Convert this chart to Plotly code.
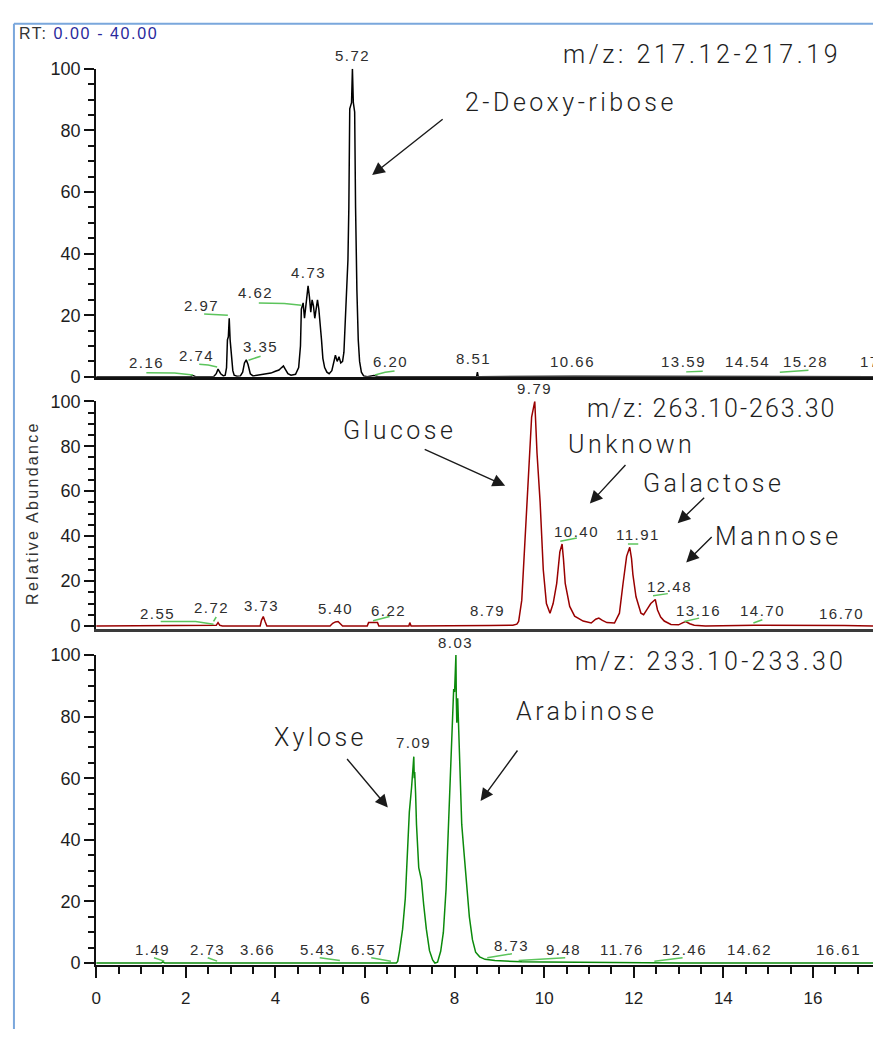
import plotly.graph_objects as go

# ---------------- chromatogram data (RT in min, relative abundance in %) ----------------
# m/z 217.12-217.19 (2-deoxy-ribose channel)
deoxy_rt = [0.00, 2.10, 2.16, 2.22, 2.62, 2.68, 2.72, 2.74, 2.78, 2.84, 2.88, 2.91, 2.93, 2.95,
            2.97, 2.99, 3.02, 3.05, 3.08, 3.14, 3.22, 3.27, 3.31, 3.35, 3.39, 3.44, 3.50, 3.60,
            3.70, 3.80, 3.90, 4.00, 4.08, 4.14, 4.18, 4.22, 4.28, 4.35, 4.45, 4.52, 4.56, 4.58,
            4.62, 4.65, 4.68, 4.71, 4.73, 4.76, 4.79, 4.82, 4.85, 4.88, 4.91, 4.94, 4.97, 5.00,
            5.03, 5.06, 5.10, 5.15, 5.20, 5.26, 5.30, 5.34, 5.38, 5.42, 5.46, 5.50, 5.53, 5.56,
            5.59, 5.62, 5.64, 5.66, 5.70, 5.72, 5.74, 5.77, 5.79, 5.80, 5.82, 5.85, 5.88, 5.92,
            5.97, 6.05, 6.20, 6.30, 8.49, 8.51, 8.53, 10.66, 13.59, 15.28, 17.34]
deoxy_ab = [0, 0, 0.4, 0, 0, 1, 2.5, 2, 1, 0.3, 0.5, 3, 12, 13,
            19, 12, 6, 2, 0.5, 0.2, 0.3, 1.5, 4.5, 5.5, 4, 1, 0.3, 0.5,
            0.8, 1, 1.2, 1.8, 2.2, 3, 3.5, 2.5, 1, 0.5, 0.8, 3, 10, 22,
            24, 19, 23, 28, 29.5, 26, 21, 25, 23, 19, 22, 25, 22, 18,
            12, 6, 3, 1.5, 1, 2, 4.5, 7, 5, 6.5, 4.5, 5, 8, 17,
            26, 38, 55, 87, 89, 100, 89, 86, 55, 41, 28, 12, 5, 1.5,
            0.3, 0, 0.4, 0, 0, 1.5, 0, 0.2, 0.2, 0.2, 0]

# m/z 263.10-263.30 (hexoses)
hexose_rt = [0.00, 2.60, 2.68, 2.72, 2.76, 2.82, 3.66, 3.69, 3.73, 3.77, 3.81, 5.22, 5.28, 5.34,
             5.40, 5.45, 5.50, 6.05, 6.08, 6.22, 6.28, 6.31, 6.98, 7.00, 7.03, 8.79, 9.30, 9.39,
             9.43, 9.50, 9.56, 9.65, 9.72, 9.76, 9.79, 9.81, 9.84, 9.91, 9.98, 10.05, 10.13, 10.20,
             10.28, 10.35, 10.40, 10.43, 10.47, 10.57, 10.68, 10.87, 11.05, 11.15, 11.22, 11.30,
             11.40, 11.57, 11.68, 11.76, 11.84, 11.91, 11.95, 11.98, 12.05, 12.16, 12.22, 12.30,
             12.38, 12.48, 12.53, 12.60, 12.68, 12.83, 13.00, 13.10, 13.16, 13.25, 13.35, 13.60,
             14.70, 16.70, 17.34]
hexose_ab = [0, 0, 0.3, 1.5, 0.3, 0, 0, 2.5, 4.2, 2, 0, 0, 1.2, 1.8,
             2, 1, 0, 0, 1.5, 1.5, 1.5, 0, 0, 1.5, 0, 0.2, 0.3, 0.8,
             2, 11.5, 33, 62, 93, 97, 100, 91, 77, 55, 25, 10, 5.7, 10,
             19, 33, 36.5, 30, 19, 8.7, 4.4, 2.2, 1.3, 3, 3.5, 2.5,
             1.5, 1.3, 5.7, 18.8, 31, 35, 30, 23, 13, 5.7, 5, 7.5,
             10, 11.8, 7.1, 4, 2.2, 0.7, 0.5, 1.5, 2, 1, 0.3, 0,
             0.3, 0.2, 0]

# m/z 233.10-233.30 (pentoses)
pentose_rt = [0.00, 1.45, 1.49, 1.53, 6.70, 6.73, 6.77, 6.84, 6.90, 6.95, 6.99, 7.04, 7.07, 7.09,
              7.10, 7.11, 7.13, 7.15, 7.20, 7.26, 7.31, 7.37, 7.44, 7.51, 7.56, 7.62, 7.69, 7.75,
              7.81, 7.86, 7.91, 7.95, 7.98, 8.00, 8.02, 8.03, 8.04, 8.05, 8.07, 8.09, 8.12, 8.16,
              8.21, 8.27, 8.33, 8.40, 8.47, 8.56, 8.68, 8.90, 9.12, 9.50, 10.00, 11.00, 12.00,
              13.00, 17.34]
pentose_ab = [0, 0, 0.4, 0, 0, 0.5, 3.8, 11, 21, 39, 49, 57, 63, 67,
              60, 62, 55, 45, 31, 27, 19, 11, 4, 1, 0, 0.3, 3.8, 10,
              24, 42, 58, 73, 89, 88, 95, 100, 85, 78, 86, 75, 62, 45,
              36, 25, 15, 7.5, 3.5, 2, 1.2, 0.8, 0.6, 0.4, 0.3, 0.2, 0.1,
              0, 0]

# ---------------- peak apex labels ----------------
deoxy_peaks = [2.16, 2.74, 2.97, 3.35, 4.62, 4.73, 5.72, 6.20, 8.51, 10.66, 13.59, 14.54, 15.28]
deoxy_lbl_x = [1.12, 2.23, 2.36, 3.66, 3.56, 4.73, 5.72, 6.58, 8.43, 10.64, 13.12, 14.54, 15.83]
deoxy_lbl_y = [4.5, 7.0, 23.0, 9.9, 27.4, 33.8, 104.2, 5.1, 6.1, 5.1, 5.1, 5.1, 5.1]

hexose_peaks = [2.55, 2.72, 3.73, 5.40, 6.22, 8.79, 9.79, 10.40, 11.91, 12.48, 13.16, 14.70, 16.70]
hexose_lbl_x = [1.38, 2.57, 3.70, 5.35, 6.52, 8.73, 9.79, 10.73, 12.10, 12.79, 13.45, 14.87, 16.64]
hexose_lbl_y = [5.7, 8.2, 9.3, 7.9, 6.7, 6.7, 105.4, 42.1, 40.6, 17.5, 6.7, 6.7, 5.7]

pentose_peaks = [1.49, 2.73, 3.66, 5.43, 6.57, 7.09, 8.03, 8.73, 9.48, 11.76, 12.46, 14.62, 16.61]
pentose_lbl_x = [1.26, 2.48, 3.60, 4.93, 6.08, 7.09, 8.03, 9.27, 10.44, 11.74, 13.13, 14.59, 16.57]
pentose_lbl_y = [4.4, 4.5, 4.5, 4.5, 4.5, 71.6, 104.1, 5.6, 4.4, 4.5, 4.5, 4.5, 4.5]

# peak label running off the right edge of the time window
edge_peak = 17.05

# green integration baselines that tie labels to their peaks
deoxy_guides = [[(1.12, 1.3), (1.75, 1.2), (2.16, 0.6)],
                [(2.30, 4.1), (2.50, 3.8), (2.70, 3.2)],
                [(2.41, 20.4), (2.94, 20.0)],
                [(3.40, 5.4), (3.67, 6.7)],
                [(3.63, 24.0), (4.20, 23.8), (4.58, 23.2)],
                [(6.22, 0.6), (6.45, 1.5), (6.66, 1.9)],
                [(13.17, 1.6), (13.54, 1.8)],
                [(15.26, 1.5), (15.90, 2.1)]]
hexose_guides = [[(1.44, 2.0), (2.22, 2.0), (2.62, 0.8)],
                 [(2.62, 2.0), (2.68, 4.0)],
                 [(6.18, 2.3), (6.55, 4.2)],
                 [(10.36, 37.7), (10.73, 39.2)],
                 [(11.87, 36.5), (12.10, 36.5)],
                 [(12.43, 13.5), (12.76, 14.4)],
                 [(13.13, 2.0), (13.46, 3.5)],
                 [(14.67, 1.3), (14.87, 2.8)]]
pentose_guides = [[(1.29, 1.7), (1.52, 0.6)],
                  [(2.49, 1.7), (2.70, 0.6)],
                  [(4.99, 1.7), (5.44, 0.8)],
                  [(6.14, 1.7), (6.58, 0.6)],
                  [(8.73, 1.7), (9.28, 3.0)],
                  [(9.43, 0.8), (10.47, 1.7)],
                  [(12.46, 0.6), (13.09, 1.7)]]

# compound names, mass ranges and arrows (head in data units, tail offset in px)
mass_ranges = ["m/z: 217.12-217.19", "m/z: 263.10-263.30", "m/z: 233.10-233.30"]
compounds = [("2-Deoxy-ribose", "y3", 10.59, 89.2, 6.16, 65.5, 72, -57),
             ("Glucose", "y2", 6.78, 86.9, 9.13, 62.4, -82, -37),
             ("Unknown", "y2", 11.95, 80.8, 11.02, 54.5, 37, -40),
             ("Galactose", "y2", 13.79, 63.3, 12.98, 45.7, 28, -27),
             ("Mannose", "y2", 15.22, 39.9, 13.17, 28.3, 27, -27),
             ("Arabinose", "y", 10.95, 81.8, 8.58, 52.6, 38, -52),
             ("Xylose", "y", 5.01, 73.3, 6.51, 50.5, -42, -50)]

# ---------------- figure geometry ----------------
W, H = 873, 1039
RT_MAX = 17.34
X_LEFT = 91.7
# vertical pixels per abundance unit in each panel
PX_PER_UNIT = {"y3": 3.14, "y2": 2.29, "y": 3.14}


def py(p):
    return 1 - p / H


LABEL_FONT = dict(family="Liberation Sans, Arial, sans-serif", size=15, color="#2e2e2e")
BIG_FONT = dict(family="Roboto, Liberation Sans, sans-serif", size=25, color="#1e1e1e", weight=300)
TICK_FONT_Y = dict(family="Liberation Sans, Arial, sans-serif", size=18, color="#1e1e1e")
TICK_FONT_X = dict(family="Liberation Sans, Arial, sans-serif", size=17, color="#1e1e1e")


def spaced(text, px):
    return f'<span style="letter-spacing:{px}px">{text}</span>'


def placed(ya, y):
    """Keep the anchor inside the axis range; lift text above the top with a pixel shift."""
    if y > 100:
        return 100, (y - 100) * PX_PER_UNIT[ya]
    return y, 0


fig = go.Figure()

panels = [("x3", "y3", deoxy_rt, deoxy_ab, "#000000"),
          ("x2", "y2", hexose_rt, hexose_ab, "#990000"),
          ("x", "y", pentose_rt, pentose_ab, "#0b8a0b")]
for xa, ya, rt, ab, col in panels:
    fig.add_trace(go.Scatter(x=rt, y=ab, xaxis=xa, yaxis=ya, mode="lines",
                             line=dict(color=col, width=1.5), hoverinfo="skip"))

for xa, ya, guides in [("x3", "y3", deoxy_guides), ("x2", "y2", hexose_guides),
                       ("x", "y", pentose_guides)]:
    gx, gy = [], []
    for seg in guides:
        gx += [p[0] for p in seg] + [None]
        gy += [p[1] for p in seg] + [None]
    fig.add_trace(go.Scatter(x=gx, y=gy, xaxis=xa, yaxis=ya, mode="lines",
                             line=dict(color="#5cc45c", width=1.5), hoverinfo="skip"))

annotations = []
for ya, peaks, lx, ly in [("y3", deoxy_peaks, deoxy_lbl_x, deoxy_lbl_y),
                          ("y2", hexose_peaks, hexose_lbl_x, hexose_lbl_y),
                          ("y", pentose_peaks, pentose_lbl_x, pentose_lbl_y)]:
    xa = "x" + ya[1:]
    for v, x, y in zip(peaks, lx, ly):
        yv, shift = placed(ya, y)
        annotations.append(dict(text=spaced(f"{v:.2f}", 1.5), x=x, y=yv, yshift=shift,
                                xref=xa, yref=ya, showarrow=False, xanchor="center",
                                yanchor="middle", font=LABEL_FONT))
annotations.append(dict(text=spaced(f"{edge_peak:.2f}", 1.5), x=17.0, y=5.1, xref="x3",
                        yref="y3", showarrow=False, xanchor="left", yanchor="middle",
                        font=LABEL_FONT))

# mass range captions
for (ya, xr, yv, sp), txt in zip([("y3", 16.67, 104.5, 3.6), ("y2", 16.56, 96.6, 2.0),
                                  ("y", 16.79, 97.8, 3.2)], mass_ranges):
    yy, shift = placed(ya, yv)
    annotations.append(dict(text=spaced(txt, sp), x=xr, y=yy, yshift=shift,
                            xref="x" + ya[1:], yref=ya, showarrow=False, xanchor="right",
                            yanchor="middle", font=BIG_FONT))

for name, ya, tx, ty, hx, hy, ax, ay in compounds:
    xa = "x" + ya[1:]
    annotations.append(dict(text=spaced(name, 3.5), x=tx, y=ty, xref=xa, yref=ya,
                            showarrow=False, xanchor="center", yanchor="middle", font=BIG_FONT))
    annotations.append(dict(text="", x=hx, y=hy, xref=xa, yref=ya, showarrow=True,
                            ax=ax, ay=ay, arrowhead=2, arrowsize=1.8, arrowwidth=1.4,
                            arrowcolor="#1a1a1a", standoff=0, startstandoff=0))

annotations.append(dict(text=spaced("RT: ", 1.6) +
                        '<span style="letter-spacing:1.6px;color:#28289c">0.00 - 40.00</span>',
                        x=12 / W, y=py(24), xref="paper", yref="paper", showarrow=False,
                        xanchor="left", yanchor="middle",
                        font=dict(family="Liberation Sans, Arial, sans-serif", size=16,
                                  color="#333333")))
annotations.append(dict(text=spaced("Relative Abundance", 2.3), x=27 / W, y=py(513),
                        xref="paper", yref="paper", showarrow=False, textangle=-90,
                        xanchor="center", yanchor="middle",
                        font=dict(family="Liberation Sans, Arial, sans-serif", size=16,
                                  color="#333333")))

x_dom = [X_LEFT / W, 1.0]
yaxis_common = dict(tickvals=[0, 20, 40, 60, 80, 100], ticks="outside", ticklen=10, tickwidth=2,
                    tickcolor="#111111", showline=True, linecolor="#111111", linewidth=2,
                    showgrid=False, zeroline=False, tickfont=TICK_FONT_Y,
                    minor=dict(dtick=5, tick0=0, ticks="outside", ticklen=6, tickwidth=2,
                               tickcolor="#111111", showgrid=False))
xaxis_hidden = dict(matches="x", range=[0, RT_MAX], domain=x_dom, showticklabels=False,
                    ticks="", showline=True, linecolor="#111111", showgrid=False,
                    zeroline=False)

fig.update_layout(
    width=W, height=H, margin=dict(l=0, r=0, t=0, b=0),
    paper_bgcolor="white", plot_bgcolor="white", showlegend=False, hovermode=False,
    xaxis=dict(range=[0, RT_MAX], domain=x_dom, anchor="y", showline=True,
               linecolor="#111111", linewidth=2, ticks="outside", ticklen=11, tickwidth=2,
               tickcolor="#111111", dtick=2, tick0=0, showgrid=False, zeroline=False,
               tickfont=TICK_FONT_X, ticklabelstandoff=6,
               minor=dict(dtick=0.5, tick0=0, ticks="outside", ticklen=7, tickwidth=2,
                          tickcolor="#111111", showgrid=False)),
    xaxis2=dict(xaxis_hidden, anchor="y2", linewidth=2.5, linecolor="#3a3a3a"),
    xaxis3=dict(xaxis_hidden, anchor="y3", linewidth=3),
    yaxis=dict(yaxis_common, anchor="x", range=[-0.6, 100], domain=[py(973.6), py(657.7)]),
    yaxis2=dict(yaxis_common, anchor="x2", range=[-1.5, 100], domain=[py(631.5), py(399)]),
    yaxis3=dict(yaxis_common, anchor="x3", range=[0, 100], domain=[py(374), py(60)]),
    annotations=annotations,
    shapes=[dict(type="line", xref="paper", yref="paper", x0=9 / W, x1=9 / W, y0=0, y1=py(14),
                 line=dict(color="#7aa7dc", width=2)),
            dict(type="line", xref="paper", yref="paper", x0=9 / W, x1=1, y0=py(14), y1=py(14),
                 line=dict(color="#7aa7dc", width=2))],
)

# the figure fills the page edge to edge
fig.write_html("out.html",
               post_script="document.body.style.margin='0';document.body.style.overflow='hidden';")
